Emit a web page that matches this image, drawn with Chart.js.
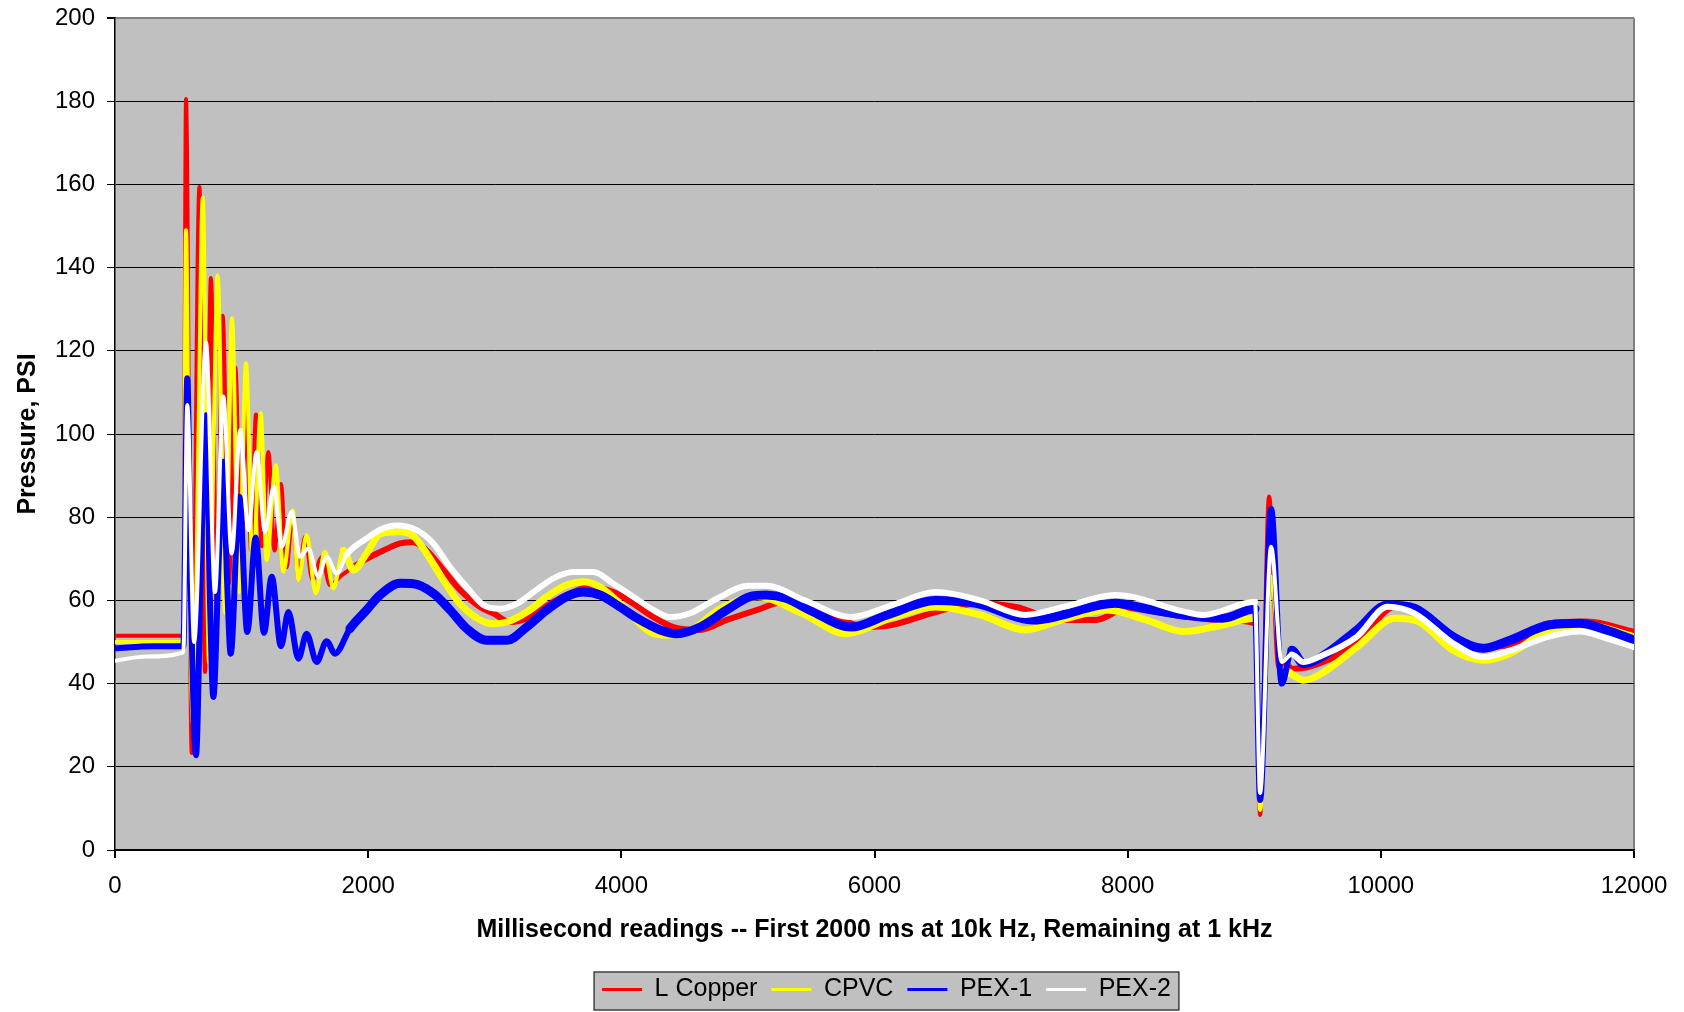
<!DOCTYPE html>
<html>
<head>
<meta charset="utf-8">
<script src="https://cdn.jsdelivr.net/npm/chart.js@4.4.1/dist/chart.umd.min.js"></script>
<style>
  body { margin: 0; background: #fff; }
</style>
</head>
<body>
<canvas id="chart" width="1684" height="1012"></canvas>
<script>
// [ms, psi] readings, estimated from the plot
var copper = [[0, 51.5], [300, 51.5], [540, 51.5], [561, 180.5], [606, 23.3], [667, 159.4], [711, 42.8], [758, 137.5],
  [805, 57], [851, 128.4], [900, 64], [951, 116], [995, 69], [1040, 108], [1075, 72], [1114, 104.7], [1160, 73],
  [1212, 95.7], [1260, 72], [1311, 88], [1355, 68], [1404, 81], [1450, 65], [1501, 75.3], [1560, 64.9], [1633, 70.4],
  [1698, 63.7], [1790, 66], [1883, 68], [1988, 70], [2120, 72], [2252, 73.7], [2357, 74], [2462, 72], [2594, 67.3],
  [2726, 62.5], [2884, 58.4], [2989, 56.9], [3121, 54.8], [3279, 56], [3437, 59.2], [3595, 61.7], [3753, 63.2],
  [3937, 62], [4095, 59.2], [4253, 56], [4411, 53.6], [4622, 52.9], [4833, 55.3], [5072, 57.7], [5285, 59.7],
  [5600, 56.9], [5954, 53.6], [6123, 54], [6484, 57.2], [6834, 59.3], [7118, 58.4], [7472, 55.3], [7750, 55.3],
  [7993, 58.1], [8447, 56.1], [8751, 55.3], [9006, 54.5], [9046, 8.4], [9117, 85], [9190, 44], [9235, 44.8],
  [9327, 43.6], [9509, 44.8], [9812, 49.7], [10115, 58.5], [10297, 57.3], [10570, 50.1], [10812, 48.8],
  [11025, 49.3], [11328, 54.5], [11630, 54.9], [11995, 52.5]];

var cpvc = [[0, 50], [300, 50], [540, 50], [561, 149], [590, 60], [619, 30], [660, 100], [693, 156.8], [743, 45],
  [780, 100], [811, 138.1], [870, 57], [924, 127.8], [980, 62], [1035, 117], [1090, 66], [1151, 105], [1198, 69.7],
  [1270, 92.5], [1330, 66.9], [1404, 81.7], [1449, 64.9], [1514, 75.7], [1586, 61.7], [1659, 71.7], [1725, 62.9],
  [1804, 72], [1883, 67.3], [1988, 71.3], [2094, 76], [2252, 76.5], [2357, 75.5], [2462, 71.3], [2594, 64.9],
  [2726, 59.2], [2884, 55.3], [2989, 54.4], [3095, 54.8], [3253, 57.2], [3411, 60.9], [3569, 63.7], [3700, 64.5],
  [3832, 63.2], [3990, 59.2], [4227, 52.4], [4359, 51.6], [4569, 53.2], [4780, 58], [5072, 60.9], [5427, 56.9],
  [5775, 52], [6123, 55.7], [6484, 58.4], [6834, 56.5], [7189, 52.9], [7500, 55.5], [7841, 57.7], [8144, 55.3],
  [8447, 52.5], [8751, 54.1], [9006, 55.7], [9046, 9.6], [9133, 65.7], [9217, 42.5], [9266, 42.5], [9388, 40.8],
  [9509, 42], [9812, 48.8], [10115, 55.7], [10297, 54.9], [10570, 48], [10812, 45.6], [11025, 47.3], [11328, 52.9],
  [11630, 54.1], [11995, 51.3]];

var pex1 = [[0, 48.5], [300, 49], [540, 49], [571, 113.4], [600, 60], [640, 22.8], [680, 70], [719, 104.5], [750, 60],
  [777, 36.8], [820, 70], [855, 93.3], [885, 65], [914, 47.2], [982, 84.9], [1045, 52.4], [1111, 75.1], [1177, 52.2],
  [1238, 65.7], [1311, 49], [1370, 57.2], [1449, 46], [1514, 52], [1593, 45.2], [1672, 50.2], [1738, 47.2],
  [1856, 53.2], [1988, 57.7], [2094, 61.3], [2252, 64.1], [2357, 64], [2515, 61.7], [2647, 57.7], [2779, 53.2],
  [2937, 50.4], [3095, 50.4], [3253, 53.6], [3411, 57.7], [3569, 60.9], [3700, 62], [3832, 61.3], [3990, 58.4],
  [4148, 55.3], [4306, 52.9], [4437, 52], [4622, 53.6], [4833, 57.7], [5017, 60.9], [5143, 61.3], [5300, 60.5],
  [5500, 57.5], [5815, 53.6], [6100, 56.5], [6484, 60], [6801, 59.3], [7259, 55.3], [7782, 58.9], [7902, 59.3],
  [8144, 58], [8447, 56.5], [8750, 55.7], [9006, 58], [9046, 12], [9133, 82], [9217, 40], [9296, 48], [9388, 44.8],
  [9509, 46], [9812, 52.9], [10054, 58.9], [10266, 58.1], [10570, 51.3], [10812, 48.5], [11025, 50.5], [11328, 54.1],
  [11570, 54.5], [11782, 52.9], [11995, 50.5]];

var pex2 = [[0, 45.5], [250, 46.5], [540, 47.5], [571, 107], [625, 50], [719, 122], [790, 62], [855, 109], [922, 71.3],
  [990, 101], [1053, 76.9], [1119, 95.7], [1185, 76.5], [1256, 87.3], [1317, 72.9], [1396, 81.3], [1462, 70.5],
  [1527, 72.5], [1606, 65.7], [1672, 70.5], [1751, 66.5], [1830, 71], [1988, 74.9], [2094, 77], [2225, 78],
  [2383, 76.9], [2515, 73.7], [2647, 68], [2779, 63.2], [2910, 58.9], [3041, 58], [3174, 59.2], [3306, 62],
  [3464, 65.3], [3622, 66.8], [3780, 66.8], [3937, 64], [4095, 60.9], [4253, 57.7], [4385, 56], [4543, 56.9],
  [4754, 60.4], [5000, 63.5], [5150, 63.5], [5450, 60], [5815, 56], [6150, 59], [6484, 62], [6834, 60], [7189, 56.5],
  [7500, 58.5], [7902, 61.3], [8447, 57.3], [8600, 56.5], [9006, 59.7], [9046, 13.7], [9133, 72.9], [9217, 45.2],
  [9296, 47], [9388, 45.2], [9509, 46.4], [9812, 51.3], [10054, 58.5], [10266, 56.9], [10570, 49.7], [10812, 46.4],
  [11025, 48], [11328, 51.3], [11570, 52.5], [11782, 50.9], [11995, 48.8]];

var seriesNames = ['L Copper', 'CPVC', 'PEX-1', 'PEX-2'];

function points(list) {
  return list.map(function (p) { return { x: p[0], y: p[1] }; });
}

// thinner strokes where the trace swings fast, thicker where the noise band is wide
function bandWidth(thin, thick) {
  return function (ctx) {
    var x = ctx.p0.parsed.x;
    return (x < 1800 || (x > 8990 && x < 9250)) ? thin : thick;
  };
}

function line(label, data, color, thin, thick, order) {
  return {
    label: label,
    data: points(data),
    borderColor: color,
    backgroundColor: color,
    borderWidth: thin,
    borderJoinStyle: 'round',
    borderCapStyle: 'round',
    pointRadius: 0,
    cubicInterpolationMode: 'monotone',
    order: order,
    segment: { borderWidth: bandWidth(thin, thick) }
  };
}

var plotBox = {
  id: 'plotBox',
  afterLayout: function (chart) {
    chart.legend.left += 12;
    chart.legend.right += 12;
  },
  beforeDraw: function (chart) {
    var c = chart.ctx, a = chart.chartArea;
    c.save();
    c.fillStyle = '#C0C0C0';
    c.fillRect(a.left, a.top, a.right - a.left, a.bottom - a.top);
    var hb = chart.legend.legendHitBoxes;
    if (hb && hb.length) {
      var last = hb[hb.length - 1];
      var x0 = hb[0].left - 8, x1 = last.left + last.width + 8;
      var y0 = hb[0].top - 5, y1 = hb[0].top + hb[0].height + 8;
      c.fillRect(x0, y0, x1 - x0, y1 - y0);
      c.strokeStyle = '#404040';
      c.lineWidth = 1.5;
      c.strokeRect(x0, y0, x1 - x0, y1 - y0);
    }
    c.restore();
  }
};

Chart.defaults.font.family = '"Liberation Sans", Arial, sans-serif';
Chart.defaults.font.size = 24;
Chart.defaults.color = '#000';

new Chart(document.getElementById('chart').getContext('2d'), {
  type: 'line',
  data: {
    datasets: [
      line(seriesNames[0], copper, '#FF0000', 4, 6, 4),
      line(seriesNames[1], cpvc, '#FFFF00', 4, 7, 3),
      line(seriesNames[2], pex1, '#0000FF', 6, 9, 2),
      line(seriesNames[3], pex2, '#FFFFFF', 4, 6, 1)
    ]
  },
  options: {
    responsive: false,
    animation: false,
    devicePixelRatio: 1,
    layout: { padding: { top: 18, right: 50, bottom: 0, left: 0 } },
    plugins: {
      tooltip: { enabled: false },
      legend: {
        position: 'bottom',
        fullSize: false,
        labels: {
          usePointStyle: true,
          pointStyle: 'line',
          pointStyleWidth: 40,
          padding: 14,
          font: { size: 25 },
          sort: function (a, b) { return a.datasetIndex - b.datasetIndex; },
          generateLabels: function (chart) {
            return Chart.defaults.plugins.legend.labels.generateLabels(chart).map(function (item) {
              item.lineWidth = 3;
              item.lineCap = 'butt';
              return item;
            });
          }
        }
      }
    },
    scales: {
      x: {
        type: 'linear',
        min: 0,
        max: 12000,
        afterFit: function (scale) { scale.height = 113; },
        ticks: {
          stepSize: 2000,
          padding: 14,
          maxRotation: 0,
          font: { size: 24 },
          callback: function (v) { return String(v); }
        },
        grid: {
          color: function (ctx) { return ctx.tick && ctx.tick.value === 12000 ? '#808080' : 'rgba(0,0,0,0)'; },
          lineWidth: 2,
          tickColor: '#000',
          tickLength: 8
        },
        border: { color: '#000', width: 1.5 },
        title: {
          display: true,
          text: 'Millisecond readings -- First 2000 ms at 10k Hz, Remaining at 1 kHz',
          font: { size: 25, weight: 'bold' },
          padding: { top: 4, bottom: 18 }
        }
      },
      y: {
        min: 0,
        max: 200,
        afterFit: function (scale) {
          scale.width = 115;
          scale.paddingTop = 10;
          scale.paddingBottom = 10;
        },
        ticks: { stepSize: 20, padding: 12, font: { size: 24 } },
        grid: {
          color: function (ctx) { return ctx.tick && ctx.tick.value === 200 ? '#808080' : '#000'; },
          lineWidth: function (ctx) { return ctx.tick && ctx.tick.value === 200 ? 2 : 1; },
          tickColor: '#000',
          tickLength: 8
        },
        border: { color: '#000', width: 1.5 },
        title: {
          display: true,
          text: 'Pressure, PSI',
          font: { size: 25, weight: 'bold' },
          padding: { top: 13, bottom: 0 }
        }
      }
    }
  },
  plugins: [plotBox]
});
</script>
</body>
</html>
